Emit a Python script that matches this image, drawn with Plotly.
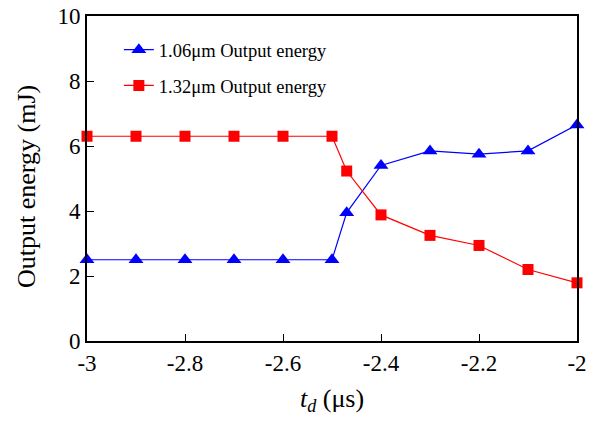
import plotly.graph_objects as go

td = [-3.0, -2.9, -2.8, -2.7, -2.6, -2.5, -2.47, -2.4, -2.3, -2.2, -2.1, -2.0]
e106 = [2.5, 2.5, 2.5, 2.5, 2.5, 2.5, 3.95, 5.4, 5.85, 5.75, 5.85, 6.65]
e132 = [6.3, 6.3, 6.3, 6.3, 6.3, 6.3, 5.23, 3.88, 3.25, 2.94, 2.2, 1.79]
name106 = "1.06μm Output energy"
name132 = "1.32μm Output energy"
xtick_vals = [-3, -2.8, -2.6, -2.4, -2.2, -2]
xtick_text = ["-3", "-2.8", "-2.6", "-2.4", "-2.2", "-2"]
ytick_vals = [0, 2, 4, 6, 8, 10]
x_title = "<i>t</i><sub><i>d</i></sub> (μs)"
y_title = "Output energy (mJ)"

font = "Liberation Serif, serif"

fig = go.Figure()
fig.add_trace(go.Scatter(x=td, y=e106, name=name106, mode="lines+markers",
                         line=dict(color="#0000ff", width=1.2),
                         marker=dict(symbol="triangle-up", size=13, color="#0000ff"),
                         cliponaxis=False, legend="legend"))
fig.add_trace(go.Scatter(x=td, y=e132, name=name132, mode="lines+markers",
                         line=dict(color="#ff0000", width=1.2),
                         marker=dict(symbol="square", size=11, color="#ff0000"),
                         cliponaxis=False, legend="legend2"))

leg_common = dict(xanchor="left", yanchor="middle",
                  font=dict(family=font, size=18.5, color="black"),
                  bgcolor="rgba(0,0,0,0)", itemwidth=30)

fig.add_annotation(text=y_title, xref="paper", yref="paper",
                   x=-0.1224, y=0.474, xanchor="center", yanchor="middle",
                   textangle=-90, showarrow=False,
                   font=dict(family=font, size=26, color="black"))

fig.update_layout(
    width=595, height=427,
    margin=dict(l=87, r=18, t=16, b=86),
    paper_bgcolor="white", plot_bgcolor="white",
    font=dict(family=font, size=23, color="black"),
    showlegend=True,
    legend=dict(x=0.065, y=0.895, **leg_common),
    legend2=dict(x=0.065, y=0.785, **leg_common),
    xaxis=dict(range=[-3, -2], tickvals=xtick_vals, ticktext=xtick_text,
               ticks="inside", ticklen=7, tickwidth=1, tickcolor="black",
               showline=True, linecolor="black", linewidth=2, mirror=True,
               showgrid=False, zeroline=False, automargin=False,
               tickfont=dict(family=font, size=23),
               title=dict(text=x_title, font=dict(family=font, size=26), standoff=14)),
    yaxis=dict(range=[0, 10], tickvals=ytick_vals,
               ticks="inside", ticklen=7, tickwidth=1, tickcolor="black",
               showline=True, linecolor="black", linewidth=2, mirror=True,
               showgrid=False, zeroline=False, automargin=False,
               tickfont=dict(family=font, size=23)),
)

fig.write_html("out.html", post_script="document.body.style.margin='0';",
               config={"displayModeBar": False})
